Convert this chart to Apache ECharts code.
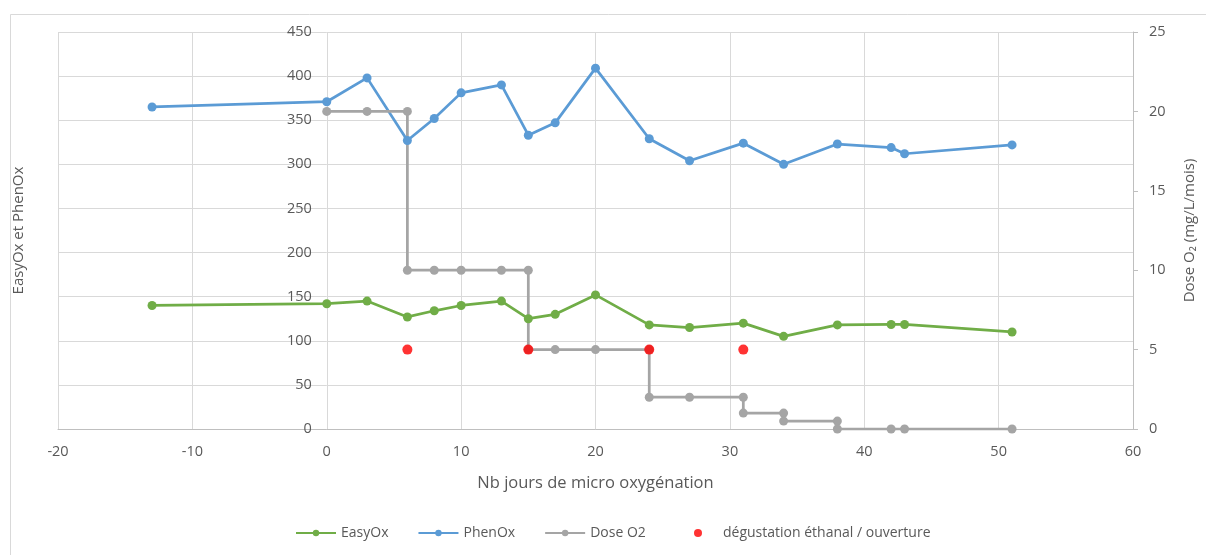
<!DOCTYPE html>
<html>
<head>
<meta charset="utf-8">
<title>EasyOx / PhenOx et dose d'O2</title>
<script src="https://cdn.jsdelivr.net/npm/echarts@6/dist/echarts.min.js"></script>
<style>
  html, body { margin: 0; padding: 0; background: #ffffff; }
  #chart { width: 1206px; height: 555px; }
</style>
</head>
<body>
<div id="chart"></div>
<script>
// Days of micro-oxygenation at which EasyOx / PhenOx were measured
const measureDays = [-13, 0, 3, 6, 8, 10, 13, 15, 17, 20, 24, 27, 31, 34, 38, 42, 43, 51];
const easyOx = [140, 142, 145, 127, 134, 140, 145, 125, 130, 152, 118, 115, 120, 105, 118, 118.5, 118.5, 110];
const phenOx = [365, 371, 398, 327, 352, 381, 390, 333, 347, 409, 329, 304, 324, 300, 323, 319, 312, 322];

// O2 dose steps (mg/L/mois); repeated days make the vertical steps
const doseDays = [0, 3, 6, 6, 8, 10, 13, 15, 15, 17, 20, 24, 24, 27, 31, 31, 34, 34, 38, 38, 42, 43, 51];
const doseO2 = [20, 20, 20, 10, 10, 10, 10, 10, 5, 5, 5, 5, 2, 2, 2, 1, 1, 0.5, 0.5, 0, 0, 0, 0];

// Tasting / opening events, placed on the dose axis
const tastingDays = [6, 15, 24, 31];
const tastingLevel = [5, 5, 5, 5];

const seriesNames = ['EasyOx', 'PhenOx', 'Dose O2', 'dégustation éthanal / ouverture'];
const xTicks = { min: -20, max: 60, step: 10 };
const leftTicks = { min: 0, max: 450, step: 50 };
const rightTicks = { min: 0, max: 25, step: 5 };

const pairs = (xs, ys) => xs.map((x, i) => [x, ys[i]]);

const FONT = '"Open Sans", "Liberation Sans", sans-serif';
const TEXT = '#595959';
const GRID = '#d9d9d9';

const W = 1206;
const gridBox = { left: 58, right: 73, top: 32, bottom: 126 };
// The left value axis crosses the day axis at day 0
const plotWidth = W - gridBox.left - gridBox.right;
const zeroShift = (0 - xTicks.min) / (xTicks.max - xTicks.min) * plotWidth;

const legendText = { fontFamily: FONT, fontSize: 14, color: TEXT };

const chart = echarts.init(document.getElementById('chart'), null, { renderer: 'canvas' });

chart.setOption({
  animation: false,
  backgroundColor: '#ffffff',
  textStyle: { fontFamily: FONT, color: TEXT },
  graphic: [{
    type: 'rect',
    left: 8, top: 12,
    shape: { width: 1220, height: 580 },
    style: { fill: 'none', stroke: GRID, lineWidth: 1 },
    silent: true
  }],
  grid: Object.assign({ containLabel: false, outerBoundsMode: 'none' }, gridBox),
  legend: [
    {
      top: 521,
      left: 290,
      itemWidth: 40,
      itemHeight: 8,
      itemGap: 29,
      textStyle: legendText,
      data: [seriesNames[0], seriesNames[1], seriesNames[2]]
    },
    {
      top: 521,
      left: 689,
      itemWidth: 40,
      itemHeight: 8,
      textStyle: legendText,
      data: [{ name: seriesNames[3], icon: 'circle' }]
    }
  ],
  xAxis: {
    type: 'value',
    min: xTicks.min, max: xTicks.max, interval: xTicks.step,
    name: 'Nb jours de micro oxygénation',
    nameLocation: 'middle',
    nameGap: 46,
    nameTextStyle: { fontFamily: FONT, fontSize: 16.5, color: TEXT },
    axisLine: { show: true, lineStyle: { color: '#bfbfbf', width: 1 } },
    axisTick: { show: false },
    axisLabel: { margin: 15, fontFamily: FONT, fontSize: 14.5, color: TEXT },
    splitLine: { show: true, lineStyle: { color: GRID, width: 1 } }
  },
  yAxis: [
    {
      type: 'value',
      position: 'left',
      offset: -zeroShift,
      min: leftTicks.min, max: leftTicks.max, interval: leftTicks.step,
      name: 'EasyOx et PhenOx',
      nameLocation: 'middle',
      nameRotate: 90,
      nameGap: 301,
      nameTextStyle: { fontFamily: FONT, fontSize: 15, color: TEXT },
      axisLine: { show: false, onZero: false },
      axisTick: { show: false },
      axisLabel: { margin: 15, fontFamily: FONT, fontSize: 14.5, color: TEXT },
      splitLine: { show: true, lineStyle: { color: GRID, width: 1 } }
    },
    {
      type: 'value',
      position: 'right',
      min: rightTicks.min, max: rightTicks.max, interval: rightTicks.step,
      name: 'Dose O₂ (mg/L/mois)',
      nameLocation: 'middle',
      nameRotate: 90,
      nameGap: 49,
      nameTextStyle: { fontFamily: FONT, fontSize: 15, color: TEXT },
      axisLine: { show: true, onZero: false, lineStyle: { color: '#bfbfbf', width: 1 } },
      axisTick: { show: true, inside: false, length: 5, lineStyle: { color: '#bfbfbf' } },
      axisLabel: { margin: 16, fontFamily: FONT, fontSize: 14.5, color: TEXT },
      splitLine: { show: false }
    }
  ],
  series: [
    {
      name: seriesNames[0],
      type: 'line',
      yAxisIndex: 0,
      data: pairs(measureDays, easyOx),
      symbol: 'circle', symbolSize: 9,
      lineStyle: { color: '#70ad47', width: 2.75 },
      itemStyle: { color: '#70ad47' }
    },
    {
      name: seriesNames[1],
      type: 'line',
      yAxisIndex: 0,
      data: pairs(measureDays, phenOx),
      symbol: 'circle', symbolSize: 9,
      lineStyle: { color: '#5b9bd5', width: 2.75 },
      itemStyle: { color: '#5b9bd5' }
    },
    {
      name: seriesNames[2],
      type: 'line',
      yAxisIndex: 1,
      data: pairs(doseDays, doseO2),
      symbol: 'circle', symbolSize: 9,
      lineStyle: { color: '#a5a5a5', width: 2.75 },
      itemStyle: { color: '#a5a5a5' }
    },
    {
      name: seriesNames[3],
      type: 'scatter',
      yAxisIndex: 1,
      z: 5,
      data: pairs(tastingDays, tastingLevel),
      symbol: 'circle', symbolSize: 10,
      itemStyle: { color: '#ff0000' }
    }
  ]
});
</script>
</body>
</html>
